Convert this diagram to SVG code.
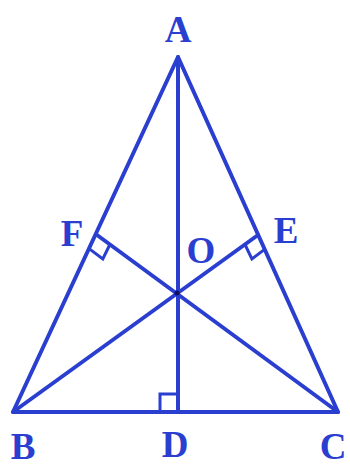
<svg xmlns="http://www.w3.org/2000/svg" width="350" height="468" viewBox="0 0 350 468">
<style>
.ln{stroke:#2a3ecf;stroke-width:4;fill:none;stroke-linecap:round;stroke-linejoin:round}
.rt{stroke:#2a3ecf;stroke-width:3;fill:none}
.lb{font-family:"Liberation Serif",serif;font-size:37px;fill:#2a3ecf;font-weight:bold}
</style>
<rect width="350" height="468" fill="#fff"/>
<g id="connectors">
<polygon class="ln" points="178,57 13,412 338,412"/>
<line class="ln" x1="178" y1="57" x2="178" y2="412"/>
<line class="ln" x1="13" y1="412" x2="258" y2="235"/>
<line class="ln" x1="338" y1="412" x2="97" y2="235"/>
<polyline class="rt" points="90.1,249.4 102.8,258.9 109.9,244.5"/>
<polyline class="rt" points="264.6,249.4 251.9,258.9 245,244.5"/>
<polyline class="rt" points="160,412 160,394 178,394"/>
<circle cx="177" cy="293" r="2.5" fill="#101060"/>
</g>
<g id="A"><text class="lb" x="178" y="42" text-anchor="middle">A</text></g>
<g id="B"><text class="lb" x="23" y="459" text-anchor="middle">B</text></g>
<g id="C"><text class="lb" x="333" y="459" text-anchor="middle">C</text></g>
<g id="D"><text class="lb" x="175" y="457" text-anchor="middle">D</text></g>
<g id="E"><text class="lb" x="286" y="243" text-anchor="middle">E</text></g>
<g id="F"><text class="lb" x="72" y="246" text-anchor="middle">F</text></g>
<g id="O"><text class="lb" x="201" y="263" text-anchor="middle">O</text></g>
</svg>
